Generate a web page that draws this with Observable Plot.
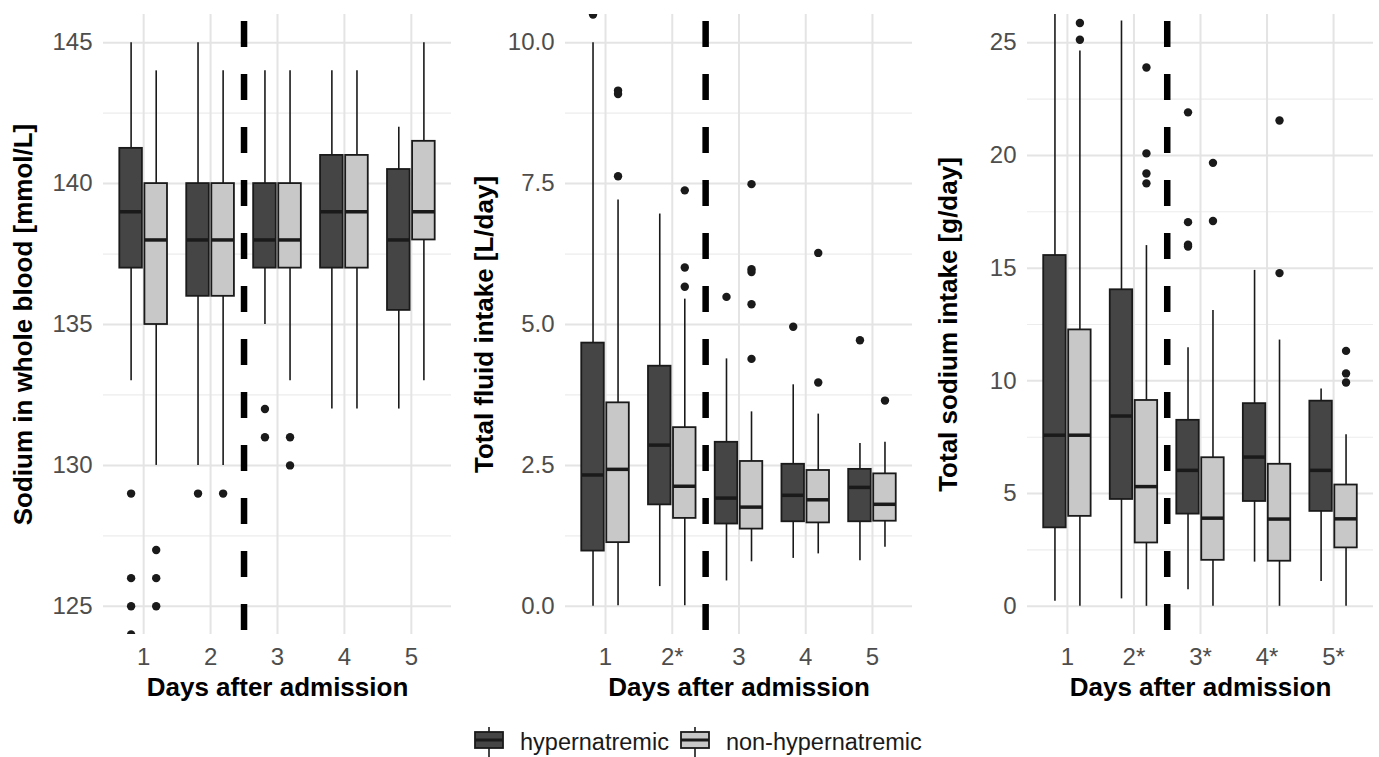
<!DOCTYPE html>
<html>
<head>
<meta charset="utf-8">
<script src="https://cdn.jsdelivr.net/npm/d3@7"></script>
<script src="https://cdn.jsdelivr.net/npm/@observablehq/plot@0.6"></script>
<style>
  html, body { margin: 0; padding: 0; background: #fff; }
  body { width: 1379px; height: 757px; position: relative; overflow: hidden; font-family: "Liberation Sans", Arial, sans-serif; }
  #row { display: flex; position: absolute; left: 0; top: 0; }
  #legend { position: absolute; left: 474px; top: 727px; display: flex; align-items: center; font-size: 23.5px; color: #1a1a1a; }
  #legend .item { display: flex; align-items: center; }
  #legend svg { display: block; }
  #legend span { margin-left: 16px; margin-right: 11px; }
</style>
</head>
<body>
<div id="row"></div>
<div id="legend"></div>
<script>
// ---------------- data ----------------
const days = [1, 2, 3, 4, 5];
const groups = ["hypernatremic", "non-hypernatremic"];
const groupColors = ["#454545", "#c8c8c8"];

// Panel 1: Sodium in whole blood [mmol/L]  (rows: hypernatremic, non-hypernatremic)
const sodiumTickLabels = ["1", "2", "3", "4", "5"];
const sodiumLo  = [[133, 130, 135, 132, 132], [130, 130, 133, 132, 133]];
const sodiumQ1  = [[137, 136, 137, 137, 135.5], [135, 136, 137, 137, 138]];
const sodiumMed = [[139, 138, 138, 139, 138], [138, 138, 138, 139, 139]];
const sodiumQ3  = [[141.25, 140, 140, 141, 140.5], [140, 140, 140, 141, 141.5]];
const sodiumHi  = [[145, 145, 144, 144, 142], [144, 144, 144, 144, 145]];
const sodiumOutliers = [ // [day, group index, value]
  [1, 0, 129], [1, 0, 126], [1, 0, 125], [1, 0, 124], [2, 0, 129], [3, 0, 132], [3, 0, 131],
  [1, 1, 127], [1, 1, 126], [1, 1, 125], [2, 1, 129], [3, 1, 131], [3, 1, 130]
];

// Panel 2: Total fluid intake [L/day]
const fluidTickLabels = ["1", "2*", "3", "4", "5"];
const fluidLo  = [[0, 0.35, 0.45, 0.85, 0.81], [0.01, 0.01, 0.79, 0.93, 1.05]];
const fluidQ1  = [[0.98, 1.80, 1.46, 1.50, 1.50], [1.13, 1.56, 1.37, 1.48, 1.51]];
const fluidMed = [[2.33, 2.86, 1.92, 1.97, 2.11], [2.43, 2.13, 1.76, 1.89, 1.81]];
const fluidQ3  = [[4.67, 4.26, 2.91, 2.52, 2.43], [3.61, 3.17, 2.57, 2.41, 2.35]];
const fluidHi  = [[10.0, 6.96, 4.39, 3.93, 2.89], [7.21, 5.45, 3.45, 3.41, 2.91]];
const fluidOutliers = [
  [1, 0, 10.5], [3, 0, 5.49], [4, 0, 4.96], [5, 0, 4.72],
  [1, 1, 7.63], [1, 1, 9.09], [1, 1, 9.15], [2, 1, 7.38], [2, 1, 6.01], [2, 1, 5.67],
  [3, 1, 7.49], [3, 1, 5.98], [3, 1, 5.93], [3, 1, 5.36], [3, 1, 4.39],
  [4, 1, 6.27], [4, 1, 3.97], [5, 1, 3.65]
];

// Panel 3: Total sodium intake [g/day]
const intakeTickLabels = ["1", "2*", "3*", "4*", "5*"];
const intakeLo  = [[0.22, 0.33, 0.74, 1.96, 1.10], [0, 0, 0, 0, 0]];
const intakeQ1  = [[3.48, 4.74, 4.09, 4.65, 4.21], [3.99, 2.81, 2.04, 2.00, 2.59]];
const intakeMed = [[7.59, 8.44, 6.03, 6.62, 6.03], [7.59, 5.31, 3.91, 3.87, 3.88]];
const intakeQ3  = [[15.56, 14.04, 8.25, 8.99, 9.10], [12.26, 9.13, 6.59, 6.30, 5.38]];
const intakeHi  = [[28, 25.96, 11.47, 14.9, 9.64], [24.63, 16.0, 13.12, 11.81, 7.61]];
const intakeOutliers = [
  [3, 0, 21.91], [3, 0, 17.04], [3, 0, 16.04], [3, 0, 15.96],
  [1, 1, 25.87], [1, 1, 25.13], [2, 1, 23.9], [2, 1, 20.09], [2, 1, 19.2], [2, 1, 18.76],
  [3, 1, 19.67], [3, 1, 17.09], [4, 1, 21.55], [4, 1, 14.78], [5, 1, 11.33], [5, 1, 10.33], [5, 1, 9.93]
];

// ---------------- drawing ----------------
const FONT = "'Liberation Sans', Arial, Helvetica, sans-serif";
const DODGE = 0.1875, HALF = 0.16875;

function panel(cfg) {
  const rows = days.flatMap((d, i) => groups.map((g, j) => ({
    day: d, group: g, off: j === 0 ? -DODGE : DODGE,
    lo: cfg.lo[j][i], q1: cfg.q1[j][i], med: cfg.med[j][i], q3: cfg.q3[j][i], hi: cfg.hi[j][i]
  })));
  const outs = cfg.outliers.map(([d, j, v]) => ({day: d, off: j === 0 ? -DODGE : DODGE, value: v}));
  const cx = d => d.day + d.off;
  const ink = "#1a1a1a";
  return Plot.plot({
    width: cfg.width, height: 705,
    marginLeft: cfg.ml, marginRight: cfg.mr, marginTop: 14, marginBottom: 71,
    style: {fontFamily: FONT, background: "white", overflow: "visible"},
    x: {domain: [0.4, 5.6], axis: null},
    y: {domain: cfg.domain, axis: null},
    color: {domain: groups, range: groupColors},
    marks: [
      Plot.ruleY(cfg.minors, {stroke: "#ececec", strokeWidth: 1.2}),
      Plot.ruleY(cfg.majors, {stroke: "#e4e4e4", strokeWidth: 2}),
      Plot.ruleX(days, {stroke: "#e4e4e4", strokeWidth: 2}),
      Plot.ruleX(rows, {x: cx, y1: "lo", y2: "q1", stroke: ink, strokeWidth: 1.6, clip: true}),
      Plot.ruleX(rows, {x: cx, y1: "q3", y2: "hi", stroke: ink, strokeWidth: 1.6, clip: true}),
      Plot.rect(rows, {x1: d => cx(d) - HALF, x2: d => cx(d) + HALF, y1: "q1", y2: "q3",
        fill: "group", stroke: ink, strokeWidth: 1.8, clip: true}),
      Plot.ruleY(rows, {y: "med", x1: d => cx(d) - HALF, x2: d => cx(d) + HALF, stroke: ink, strokeWidth: 3.5}),
      Plot.dot(outs, {x: cx, y: "value", r: 4.2, fill: ink, stroke: "none", clip: true}),
      Plot.ruleX([2.5], {stroke: "black", strokeWidth: 6.5, strokeDasharray: "26,27", strokeDashoffset: 46}),
      // y tick labels
      Plot.text(cfg.majors, {y: d => d, text: cfg.fmt, frameAnchor: "left", textAnchor: "end", dx: -11,
        fontSize: 24, fill: "#4d4d4d"}),
      // x tick labels
      Plot.text(days, {x: d => d, text: (d, i) => cfg.xLabels[i], frameAnchor: "bottom", lineAnchor: "middle", dy: 23,
        fontSize: 24, fill: "#4d4d4d"}),
      // axis titles
      Plot.text(["Days after admission"], {frameAnchor: "bottom", textAnchor: "middle", lineAnchor: "middle", dy: 53,
        fontSize: 26, fontWeight: "bold", fill: "#000"}),
      Plot.text([cfg.yTitle], {frameAnchor: "left", textAnchor: "middle", dx: cfg.titleDx, rotate: -90, lineAnchor: "middle",
        fontSize: 26, fontWeight: "bold", fill: "#000"})
    ]
  });
}

const row = document.getElementById("row");
row.append(panel({
  width: 460, ml: 103, mr: 9, domain: [124, 146],
  majors: [125, 130, 135, 140, 145], minors: [127.5, 132.5, 137.5, 142.5],
  fmt: d => String(d), xLabels: sodiumTickLabels, yTitle: "Sodium in whole blood [mmol/L]", titleDx: -80,
  lo: sodiumLo, q1: sodiumQ1, med: sodiumMed, q3: sodiumQ3, hi: sodiumHi, outliers: sodiumOutliers
}));
row.append(panel({
  width: 460, ml: 105, mr: 8, domain: [-0.5, 10.5],
  majors: [0, 2.5, 5, 7.5, 10], minors: [1.25, 3.75, 6.25, 8.75],
  fmt: d => d.toFixed(1), xLabels: fluidTickLabels, yTitle: "Total fluid intake [L/day]", titleDx: -81,
  lo: fluidLo, q1: fluidQ1, med: fluidMed, q3: fluidQ3, hi: fluidHi, outliers: fluidOutliers
}));
row.append(panel({
  width: 459, ml: 107, mr: 6, domain: [-1.25, 26.25],
  majors: [0, 5, 10, 15, 20, 25], minors: [2.5, 7.5, 12.5, 17.5, 22.5],
  fmt: d => String(d), xLabels: intakeTickLabels, yTitle: "Total sodium intake [g/day]", titleDx: -79,
  lo: intakeLo, q1: intakeQ1, med: intakeMed, q3: intakeQ3, hi: intakeHi, outliers: intakeOutliers
}));

// legend (boxplot key glyphs)
const legend = document.getElementById("legend");
groups.forEach((g, i) => {
  const item = document.createElement("div");
  item.className = "item";
  item.innerHTML =
    `<svg width="30" height="30" viewBox="0 0 30 30">
       <line x1="15" y1="0" x2="15" y2="30" stroke="#1a1a1a" stroke-width="1.6"/>
       <rect x="1" y="5" width="28" height="16" fill="${groupColors[i]}" stroke="#1a1a1a" stroke-width="1.8"/>
       <line x1="1" y1="13" x2="29" y2="13" stroke="#1a1a1a" stroke-width="3"/>
     </svg><span>${g}</span>`;
  legend.append(item);
});
</script>
</body>
</html>
